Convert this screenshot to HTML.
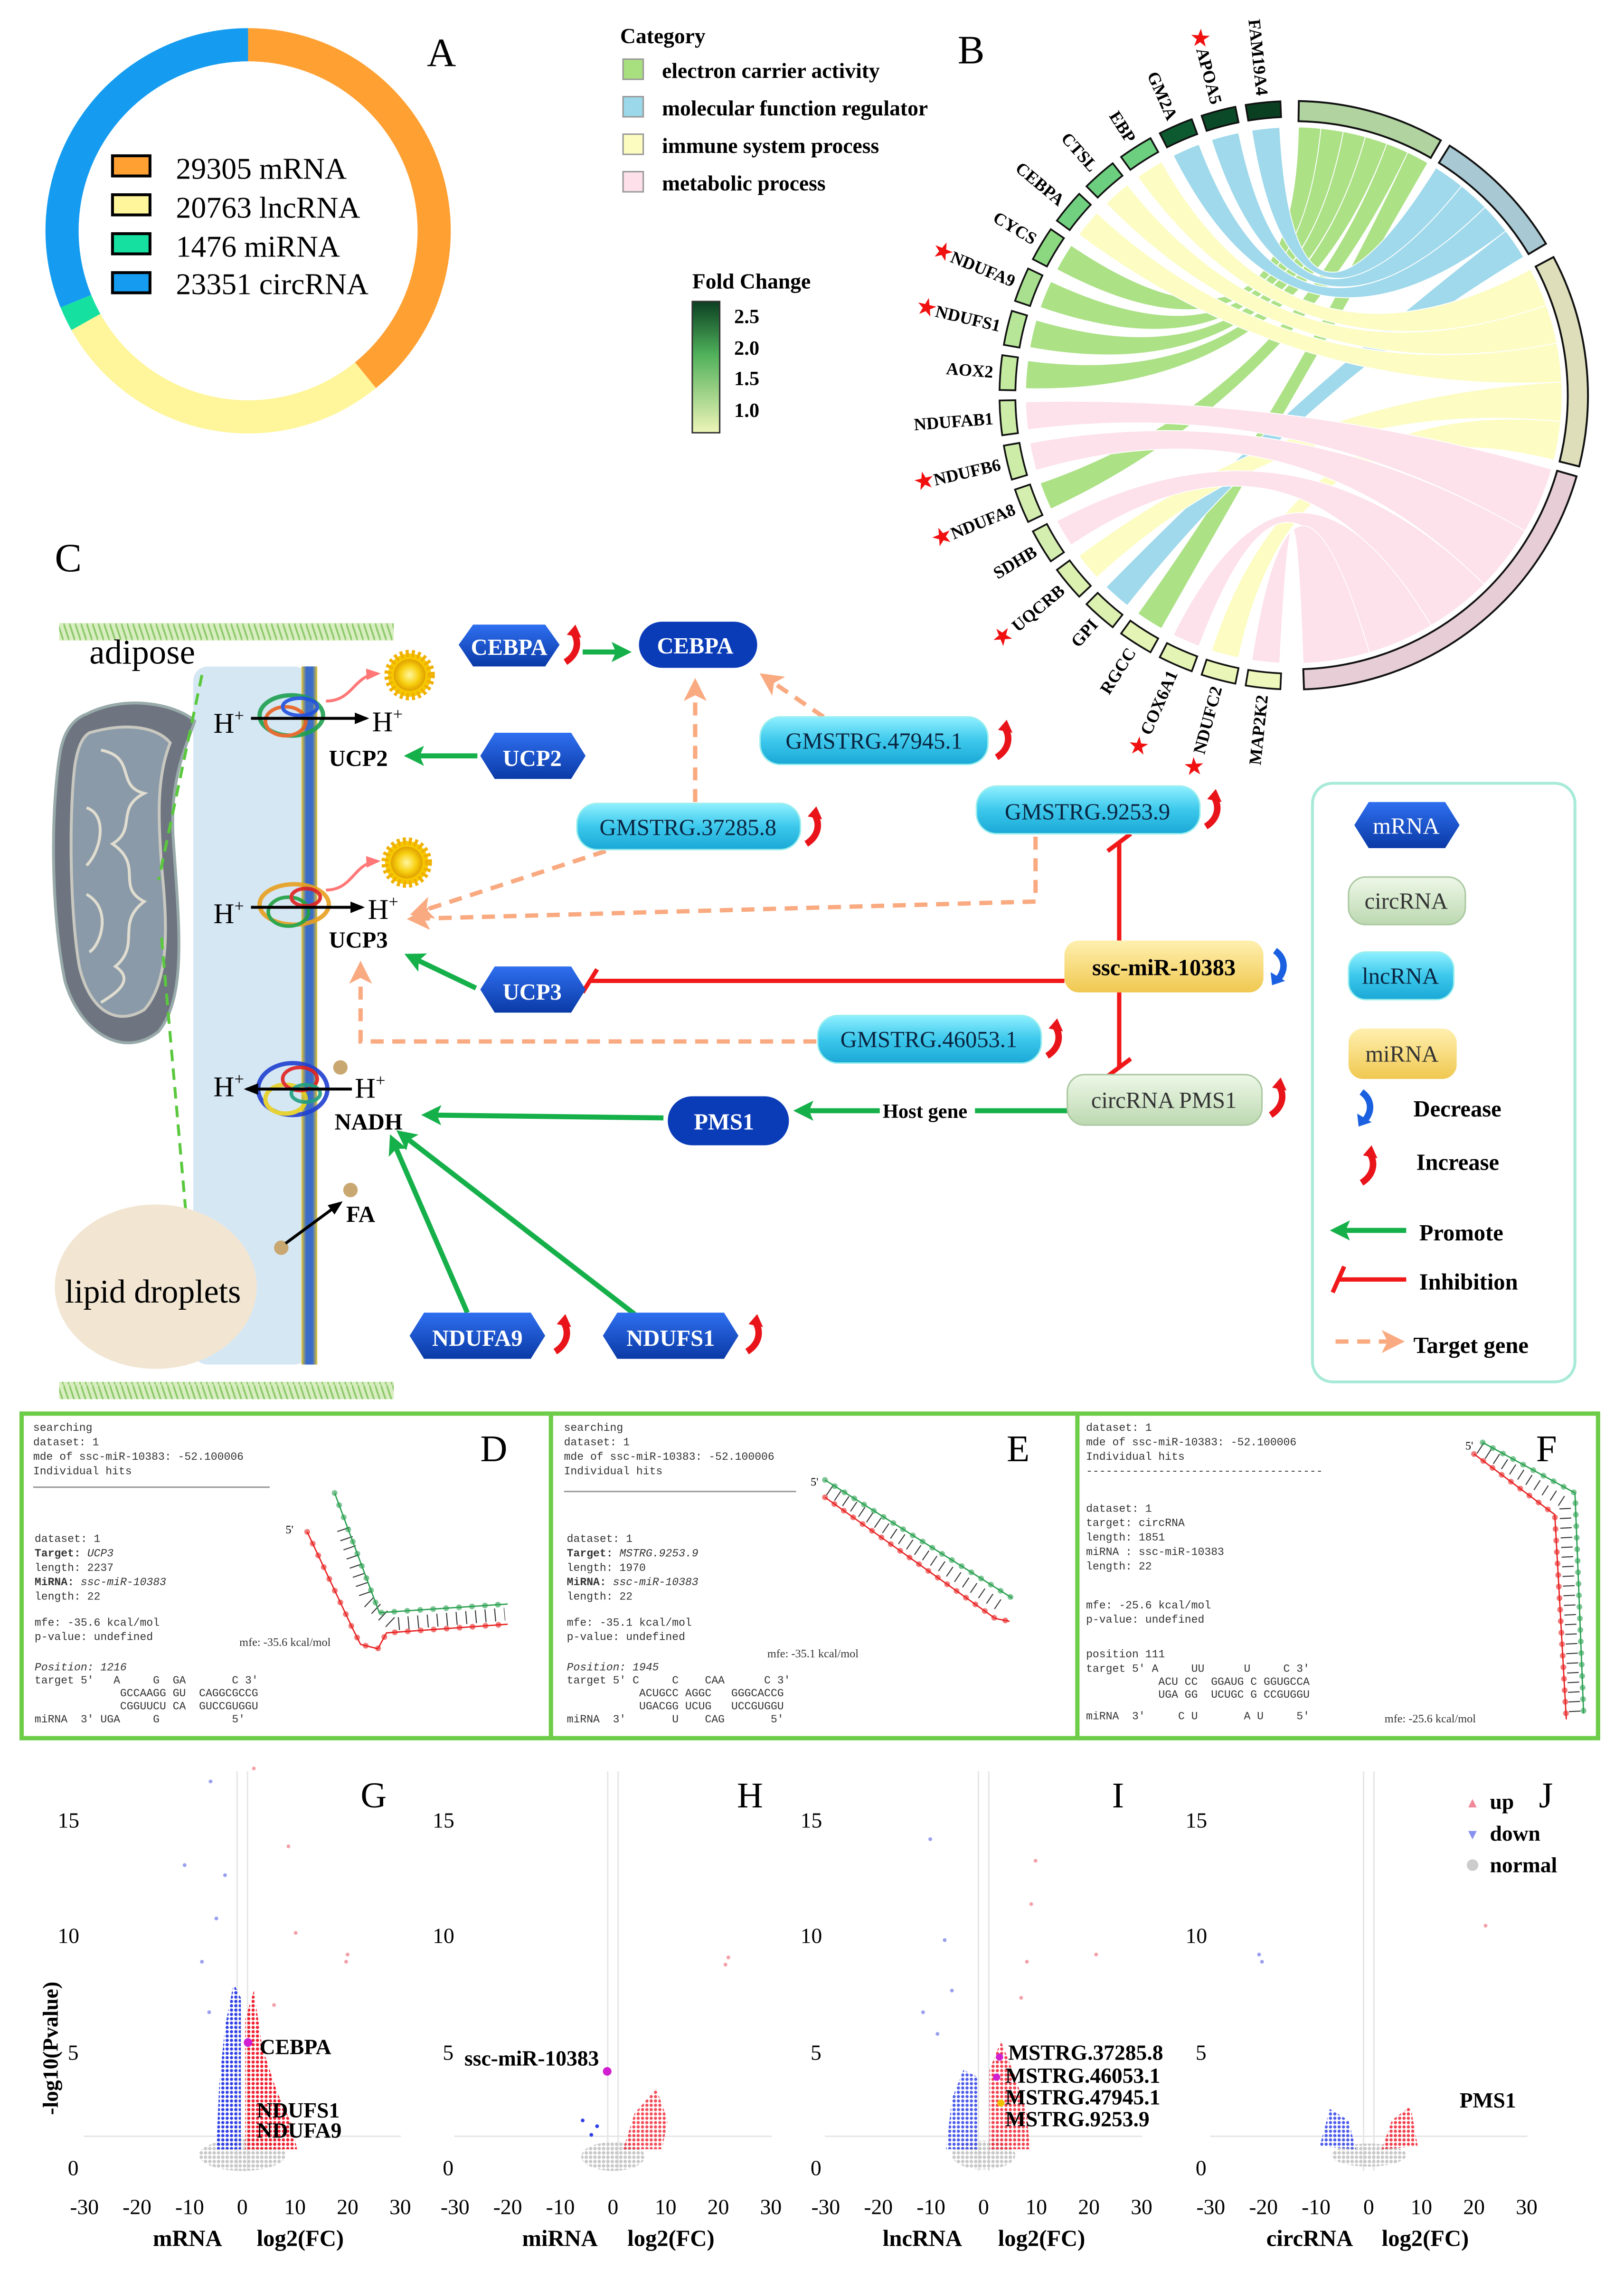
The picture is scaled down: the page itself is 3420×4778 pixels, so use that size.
<!DOCTYPE html>
<html><head><meta charset="utf-8">
<style>
html,body{margin:0;padding:0;background:#fff;}
svg{display:block;font-family:"Liberation Serif",serif;}
.b{font-weight:bold}
.m{font-family:"Liberation Mono",monospace;font-size:7.6px;fill:#333}
.nt{font-weight:bold;fill:#fff;font-size:16px;text-anchor:middle}
.lt{fill:#0a2540;font-size:16px;text-anchor:middle}
.gl{font-size:12px;font-weight:bold}
</style></head><body>
<svg xmlns="http://www.w3.org/2000/svg" width="3420" height="4778" viewBox="0 0 1126 1573" preserveAspectRatio="none">
<defs>
<linearGradient id="fc" x1="0" y1="0" x2="0" y2="1"><stop offset="0" stop-color="#0b3f22"/><stop offset="0.4" stop-color="#4fb05a"/><stop offset="1" stop-color="#eef5b8"/></linearGradient>
<linearGradient id="hx" x1="0" y1="0" x2="0" y2="1"><stop offset="0" stop-color="#2f6ff0"/><stop offset="1" stop-color="#0a3aa6"/></linearGradient>
<linearGradient id="ln" x1="0" y1="0" x2="0" y2="1"><stop offset="0" stop-color="#8ff0ff"/><stop offset="0.5" stop-color="#3cc8ec"/><stop offset="1" stop-color="#1aa8d6"/></linearGradient>
<linearGradient id="ci" x1="0" y1="0" x2="0" y2="1"><stop offset="0" stop-color="#eef8e8"/><stop offset="1" stop-color="#bcd8b0"/></linearGradient>
<linearGradient id="mi" x1="0" y1="0" x2="0" y2="1"><stop offset="0" stop-color="#fff0b0"/><stop offset="1" stop-color="#f0c850"/></linearGradient>
<linearGradient id="mb" x1="0" y1="0" x2="1" y2="0"><stop offset="0" stop-color="#e6c830"/><stop offset="0.3" stop-color="#3a6cc8"/><stop offset="0.7" stop-color="#3a6cc8"/><stop offset="1" stop-color="#e6c830"/></linearGradient>
<pattern id="hatch" width="4" height="12" patternUnits="userSpaceOnUse"><rect width="4" height="12" fill="#d8eec0"/><line x1="0" y1="0" x2="4" y2="12" stroke="#8cc86a" stroke-width="1.2"/></pattern>
<pattern id="pg" width="3" height="3" patternUnits="userSpaceOnUse"><circle cx="1.5" cy="1.5" r="1.2" fill="#c8c8c8"/></pattern>
<pattern id="pb" width="3" height="3" patternUnits="userSpaceOnUse"><circle cx="1.5" cy="1.5" r="1.1" fill="#3040e8"/></pattern>
<pattern id="pr" width="3" height="3" patternUnits="userSpaceOnUse"><circle cx="1.5" cy="1.5" r="1.1" fill="#f02030"/></pattern>
<marker id="agb" markerWidth="14" markerHeight="14" refX="10" refY="7" orient="auto" markerUnits="userSpaceOnUse"><path d="M0,0 L14,7 L0,14 L3,7 z" fill="#16b04a"/></marker>
<marker id="ao" markerWidth="16" markerHeight="16" refX="12" refY="8" orient="auto" markerUnits="userSpaceOnUse"><path d="M0,0 L16,8 L0,16 L4,8 z" fill="#f9aa80"/></marker>
<marker id="ak" markerWidth="10" markerHeight="10" refX="8" refY="5" orient="auto" markerUnits="userSpaceOnUse"><path d="M0,1 L10,5 L0,9 z" fill="#000"/></marker>
<marker id="ap" markerWidth="10" markerHeight="10" refX="8" refY="5" orient="auto" markerUnits="userSpaceOnUse"><path d="M0,1 L10,5 L0,9 z" fill="#f77"/></marker>
<symbol id="up" viewBox="0 0 14 26" overflow="visible"><path d="M2,25 C10,20 12,12 8,5" stroke="#e8141a" stroke-width="4.5" fill="none"/><path d="M3,6 L9,-1 L13,8 z" fill="#e8141a"/></symbol>
<symbol id="dn" viewBox="0 0 14 26" overflow="visible"><path d="M4,1 C11,6 12,14 6,21" stroke="#1a60e0" stroke-width="4.5" fill="none"/><path d="M1,16 L2,25 L11,22 z" fill="#1a60e0"/></symbol>
<radialGradient id="sun"><stop offset="0" stop-color="#fff6a0"/><stop offset="0.6" stop-color="#f8d010"/><stop offset="1" stop-color="#e0a000"/></radialGradient>
</defs>

<!-- Panel A -->
<g fill="none" stroke-width="23">
<path d="M172,31 A129 129 0 0 1 253.4,260.1" stroke="#ffa033"/>
<path d="M253.4,260.1 A129 129 0 0 1 59.55,223.2" stroke="#fff59a"/>
<path d="M59.55,223.2 A129 129 0 0 1 52.6,208.8" stroke="#16e0a0"/>
<path d="M52.6,208.8 A129 129 0 0 1 172,31" stroke="#159cf0"/>
</g>
<text x="296" y="46" font-size="28">A</text>
<g font-size="21">
<rect x="78" y="108" width="26" height="14" fill="#ffa033" stroke="#000" stroke-width="2"/><text x="122" y="124">29305 mRNA</text>
<rect x="78" y="135" width="26" height="14" fill="#fff59a" stroke="#000" stroke-width="2"/><text x="122" y="151">20763 lncRNA</text>
<rect x="78" y="162" width="26" height="14" fill="#16e0a0" stroke="#000" stroke-width="2"/><text x="122" y="178">1476 miRNA</text>
<rect x="78" y="189" width="26" height="14" fill="#159cf0" stroke="#000" stroke-width="2"/><text x="122" y="204">23351 circRNA</text>
</g>

<!-- Panel B legend -->
<text x="430" y="30" font-size="15" class="b">Category</text>
<g font-size="15" class="b">
<rect x="432" y="41" width="14" height="14" fill="#a8e080" stroke="#999"/><text x="459" y="54">electron carrier activity</text>
<rect x="432" y="67" width="14" height="14" fill="#9ad8ea" stroke="#999"/><text x="459" y="80">molecular function regulator</text>
<rect x="432" y="93" width="14" height="14" fill="#fcfcc0" stroke="#999"/><text x="459" y="106">immune system process</text>
<rect x="432" y="119" width="14" height="14" fill="#fde0ea" stroke="#999"/><text x="459" y="132">metabolic process</text>
</g>
<text x="664" y="44" font-size="28">B</text>
<text x="480" y="200" font-size="15" class="b">Fold Change</text>
<rect x="480" y="209" width="19" height="91" fill="url(#fc)" stroke="#333"/>
<g font-size="14" class="b"><text x="509" y="224">2.5</text><text x="509" y="246">2.0</text><text x="509" y="267">1.5</text><text x="509" y="289">1.0</text></g>

<!-- chord -->
<g transform="translate(897 274)">
<g stroke="#fff" stroke-width="0.6" opacity="0.95">
<g fill="#a8e080">
<path d="M-164.3,-87.2 A186 186 0 0 1 -154.3,-103.9 Q0,0 3.25,-185.97 A186 186 0 0 1 18.9,-185.0 Q0,0 -164.3,-87.2 Z"/>
<path d="M-175.8,-60.9 A186 186 0 0 1 -168.4,-78.9 Q0,0 18.9,-185.0 A186 186 0 0 1 34.4,-182.8 Q0,0 -175.8,-60.9 Z"/>
<path d="M-183.0,-33.1 A186 186 0 0 1 -178.6,-52.1 Q0,0 34.4,-182.8 A186 186 0 0 1 49.7,-179.2 Q0,0 -183.0,-33.1 Z"/>
<path d="M-185.9,-4.6 A186 186 0 0 1 -184.4,-24.0 Q0,0 49.7,-179.2 A186 186 0 0 1 64.6,-174.4 Q0,0 -185.9,-4.6 Z"/>
<path d="M-168.4,78.9 A186 186 0 0 1 -175.8,60.9 Q0,0 64.6,-174.4 A186 186 0 0 1 79.1,-168.4 Q0,0 -168.4,78.9 Z"/>
<path d="M-91.7,161.8 A186 186 0 0 1 -108.1,151.4 Q0,0 79.1,-168.4 A186 186 0 0 1 93,-161.1 Q0,0 -91.7,161.8 Z"/>
</g>
<g fill="#9ad8ea">
<path d="M-29.1,-183.7 A186 186 0 0 1 -9.7,-185.7 Q0,0 98.6,-157.7 A186 186 0 0 1 116.4,-145.1 Q0,0 -29.1,-183.7 Z"/>
<path d="M-57.0,-177.1 A186 186 0 0 1 -38.2,-182.0 Q0,0 116.4,-145.1 A186 186 0 0 1 132.7,-130.4 Q0,0 -57.0,-177.1 Z"/>
<path d="M-83.5,-166.2 A186 186 0 0 1 -65.7,-174.0 Q0,0 132.7,-130.4 A186 186 0 0 1 147.1,-113.9 Q0,0 -83.5,-166.2 Z"/>
<path d="M-115.4,145.8 A186 186 0 0 1 -130.1,133.0 Q0,0 147.1,-113.9 A186 186 0 0 1 159.4,-95.8 Q0,0 -115.4,145.8 Z"/>
</g>
<g fill="#fcfcc0">
<path d="M-108.1,-151.4 A186 186 0 0 1 -91.7,-161.8 Q0,0 164.2,-87.3 A186 186 0 0 1 175.2,-62.4 Q0,0 -108.1,-151.4 Z"/>
<path d="M-130.1,-133.0 A186 186 0 0 1 -115.4,-145.9 Q0,0 175.2,-62.4 A186 186 0 0 1 182.5,-36.1 Q0,0 -130.1,-133.0 Z"/>
<path d="M-149.0,-111.4 A186 186 0 0 1 -136.5,-126.4 Q0,0 182.5,-36.1 A186 186 0 0 1 185.8,-9.1 Q0,0 -149.0,-111.4 Z"/>
<path d="M-136.5,126.4 A186 186 0 0 1 -149.0,111.4 Q0,0 185.8,-9.1 A186 186 0 0 1 185.1,18.2 Q0,0 -136.5,126.4 Z"/>
<path d="M-38.2,182.0 A186 186 0 0 1 -57.0,177.1 Q0,0 185.1,18.2 A186 186 0 0 1 180.5,45.0 Q0,0 -38.2,182.0 Z"/>
</g>
<g fill="#fde0ea">
<path d="M-184.4,24.0 A186 186 0 0 1 -185.9,4.6 Q0,0 178.8,51.3 A186 186 0 0 1 160.4,94.1 Q0,0 -184.4,24.0 Z"/>
<path d="M-178.6,52.1 A186 186 0 0 1 -183.0,33.1 Q0,0 160.4,94.1 A186 186 0 0 1 132.0,131.1 Q0,0 -178.6,52.1 Z"/>
<path d="M-154.3,103.9 A186 186 0 0 1 -164.3,87.2 Q0,0 132.0,131.1 A186 186 0 0 1 95.3,159.7 Q0,0 -154.3,103.9 Z"/>
<path d="M-65.7,174.0 A186 186 0 0 1 -83.5,166.2 Q0,0 95.3,159.7 A186 186 0 0 1 52.5,178.4 Q0,0 -65.7,174.0 Z"/>
<path d="M-9.7,185.7 A186 186 0 0 1 -29.1,183.7 Q0,0 52.5,178.4 A186 186 0 0 1 6.5,185.9 Q0,0 -9.7,185.7 Z"/>
</g>
</g>
<g stroke="#111" stroke-width="1.3">
<path d="M3.32,-189.97 A190 190 0 0 1 95,-164.54 L102,-176.67 A204 204 0 0 0 3.56,-203.97 Z" fill="#b0d3a0"/>
<path d="M100.68,-161.12 A190 190 0 0 1 162.87,-97.85 L174.87,-105.06 A204 204 0 0 0 108.10,-173.0 Z" fill="#a8c8d4"/>
<path d="M167.75,-89.21 A190 190 0 0 1 184.36,45.96 L197.94,49.35 A204 204 0 0 0 180.11,-95.78 Z" fill="#dedfba"/>
<path d="M182.65,52.36 A190 190 0 0 1 6.63,189.89 L7.12,203.88 A204 204 0 0 0 196.1,56.22 Z" fill="#e6cdd6"/>
</g>
<g stroke="#111" stroke-width="1.2">
<path transform="rotate(264)" d="M192.66,-11.45 A193 193 0 0 1 192.66,11.45 L203.64,12.10 A204 204 0 0 0 203.64,-12.10 Z" fill="#0b3f22"/>
<path transform="rotate(255.16)" d="M192.66,-11.45 A193 193 0 0 1 192.66,11.45 L203.64,12.10 A204 204 0 0 0 203.64,-12.10 Z" fill="#0b4a28"/>
<path transform="rotate(246.32)" d="M192.66,-11.45 A193 193 0 0 1 192.66,11.45 L203.64,12.10 A204 204 0 0 0 203.64,-12.10 Z" fill="#0e5a30"/>
<path transform="rotate(237.47)" d="M192.66,-11.45 A193 193 0 0 1 192.66,11.45 L203.64,12.10 A204 204 0 0 0 203.64,-12.10 Z" fill="#6ccf7f"/>
<path transform="rotate(228.63)" d="M192.66,-11.45 A193 193 0 0 1 192.66,11.45 L203.64,12.10 A204 204 0 0 0 203.64,-12.10 Z" fill="#6ccf7f"/>
<path transform="rotate(219.79)" d="M192.66,-11.45 A193 193 0 0 1 192.66,11.45 L203.64,12.10 A204 204 0 0 0 203.64,-12.10 Z" fill="#70d080"/>
<path transform="rotate(210.95)" d="M192.66,-11.45 A193 193 0 0 1 192.66,11.45 L203.64,12.10 A204 204 0 0 0 203.64,-12.10 Z" fill="#8cd880"/>
<path transform="rotate(202.1)" d="M192.66,-11.45 A193 193 0 0 1 192.66,11.45 L203.64,12.10 A204 204 0 0 0 203.64,-12.10 Z" fill="#a8e090"/>
<path transform="rotate(193.26)" d="M192.66,-11.45 A193 193 0 0 1 192.66,11.45 L203.64,12.10 A204 204 0 0 0 203.64,-12.10 Z" fill="#b8e698"/>
<path transform="rotate(184.42)" d="M192.66,-11.45 A193 193 0 0 1 192.66,11.45 L203.64,12.10 A204 204 0 0 0 203.64,-12.10 Z" fill="#c4eaa0"/>
<path transform="rotate(175.58)" d="M192.66,-11.45 A193 193 0 0 1 192.66,11.45 L203.64,12.10 A204 204 0 0 0 203.64,-12.10 Z" fill="#cdeca8"/>
<path transform="rotate(166.74)" d="M192.66,-11.45 A193 193 0 0 1 192.66,11.45 L203.64,12.10 A204 204 0 0 0 203.64,-12.10 Z" fill="#cdeca8"/>
<path transform="rotate(157.9)" d="M192.66,-11.45 A193 193 0 0 1 192.66,11.45 L203.64,12.10 A204 204 0 0 0 203.64,-12.10 Z" fill="#d4eeb0"/>
<path transform="rotate(149.05)" d="M192.66,-11.45 A193 193 0 0 1 192.66,11.45 L203.64,12.10 A204 204 0 0 0 203.64,-12.10 Z" fill="#d4eeb0"/>
<path transform="rotate(140.2)" d="M192.66,-11.45 A193 193 0 0 1 192.66,11.45 L203.64,12.10 A204 204 0 0 0 203.64,-12.10 Z" fill="#dcf0b0"/>
<path transform="rotate(131.37)" d="M192.66,-11.45 A193 193 0 0 1 192.66,11.45 L203.64,12.10 A204 204 0 0 0 203.64,-12.10 Z" fill="#dcf0b0"/>
<path transform="rotate(122.53)" d="M192.66,-11.45 A193 193 0 0 1 192.66,11.45 L203.64,12.10 A204 204 0 0 0 203.64,-12.10 Z" fill="#e4f4b4"/>
<path transform="rotate(113.68)" d="M192.66,-11.45 A193 193 0 0 1 192.66,11.45 L203.64,12.10 A204 204 0 0 0 203.64,-12.10 Z" fill="#e4f4b4"/>
<path transform="rotate(104.84)" d="M192.66,-11.45 A193 193 0 0 1 192.66,11.45 L203.64,12.10 A204 204 0 0 0 203.64,-12.10 Z" fill="#eaf6b8"/>
<path transform="rotate(96)" d="M192.66,-11.45 A193 193 0 0 1 192.66,11.45 L203.64,12.10 A204 204 0 0 0 203.64,-12.10 Z" fill="#eef8bc"/>
</g>
</g>
<g class="gl">
<text transform="translate(897 274) rotate(264) translate(209 0) rotate(180)" text-anchor="end" dy="4">FAM19A4</text>
<text transform="translate(897 274) rotate(255.16) translate(209 0) rotate(180)" text-anchor="end" dy="4"><tspan fill="#f01010" font-size="15">★</tspan>APOA5</text>
<text transform="translate(897 274) rotate(246.32) translate(209 0) rotate(180)" text-anchor="end" dy="4">GM2A</text>
<text transform="translate(897 274) rotate(237.47) translate(209 0) rotate(180)" text-anchor="end" dy="4">EBP</text>
<text transform="translate(897 274) rotate(228.63) translate(209 0) rotate(180)" text-anchor="end" dy="4">CTSL</text>
<text transform="translate(897 274) rotate(219.79) translate(209 0) rotate(180)" text-anchor="end" dy="4">CEBPA</text>
<text transform="translate(897 274) rotate(210.95) translate(209 0) rotate(180)" text-anchor="end" dy="4">CYCS</text>
<text transform="translate(897 274) rotate(202.1) translate(209 0) rotate(180)" text-anchor="end" dy="4"><tspan fill="#f01010" font-size="15">★</tspan>NDUFA9</text>
<text transform="translate(897 274) rotate(193.26) translate(209 0) rotate(180)" text-anchor="end" dy="4"><tspan fill="#f01010" font-size="15">★</tspan>NDUFS1</text>
<text transform="translate(897 274) rotate(184.42) translate(209 0) rotate(180)" text-anchor="end" dy="4">AOX2</text>
<text transform="translate(897 274) rotate(175.58) translate(209 0) rotate(180)" text-anchor="end" dy="4">NDUFAB1</text>
<text transform="translate(897 274) rotate(166.74) translate(209 0) rotate(180)" text-anchor="end" dy="4"><tspan fill="#f01010" font-size="15">★</tspan>NDUFB6</text>
<text transform="translate(897 274) rotate(157.9) translate(209 0) rotate(180)" text-anchor="end" dy="4"><tspan fill="#f01010" font-size="15">★</tspan>NDUFA8</text>
<text transform="translate(897 274) rotate(149.05) translate(209 0) rotate(180)" text-anchor="end" dy="4">SDHB</text>
<text transform="translate(897 274) rotate(140.2) translate(209 0) rotate(180)" text-anchor="end" dy="4"><tspan fill="#f01010" font-size="15">★</tspan> UQCRB</text>
<text transform="translate(897 274) rotate(131.37) translate(209 0) rotate(180)" text-anchor="end" dy="4">GPI</text>
<text transform="translate(897 274) rotate(122.53) translate(209 0) rotate(180)" text-anchor="end" dy="4">RGCC</text>
<text transform="translate(897 274) rotate(113.68) translate(209 0) rotate(180)" text-anchor="end" dy="4"><tspan fill="#f01010" font-size="15">★</tspan> COX6A1</text>
<text transform="translate(897 274) rotate(104.84) translate(209 0) rotate(180)" text-anchor="end" dy="4"><tspan fill="#f01010" font-size="15">★</tspan> NDUFC2</text>
<text transform="translate(897 274) rotate(96) translate(209 0) rotate(180)" text-anchor="end" dy="4">MAP2K2</text>
</g>

<!-- Panel C -->
<text x="38" y="396" font-size="28">C</text>
<rect x="41" y="432" width="232" height="12" fill="url(#hatch)"/>
<rect x="41" y="958" width="232" height="12" fill="url(#hatch)"/>
<rect x="134" y="462" width="80" height="484" rx="10" fill="#cfe3f2" opacity="0.85"/>
<rect x="209" y="462" width="11" height="484" fill="url(#mb)"/>
<text x="62" y="460" font-size="24">adipose</text>
<path d="M60,495 C90,480 125,490 135,500 C128,520 118,540 120,580 C124,640 130,690 110,715 C85,735 55,715 45,680 C35,630 35,560 42,520 C45,505 52,498 60,495 z" fill="#6e7580" stroke="#9aa" stroke-width="2"/>
<path d="M62,508 C90,500 110,505 118,515 C108,540 110,570 112,600 C116,640 118,680 100,700 C80,712 62,700 55,670 C48,630 48,560 52,530 C54,518 57,511 62,508 z" fill="#8a9aa8" stroke="#c8c8c0" stroke-width="2"/>
<path d="M70,520 C95,525 80,545 100,550 C80,560 95,575 78,585 C100,600 80,615 100,625 C80,640 98,655 80,670 C95,680 78,690 70,695 M60,560 C75,565 70,590 60,600 M60,620 C78,630 70,655 62,660" stroke="#e0ddd0" stroke-width="2" fill="none"/>
<line x1="140" y1="468" x2="110" y2="610" stroke="#5ac83c" stroke-width="2" stroke-dasharray="8,5"/>
<line x1="112" y1="650" x2="138" y2="944" stroke="#5ac83c" stroke-width="2" stroke-dasharray="8,5"/>
<g opacity="0.9">
<ellipse cx="202" cy="496" rx="22" ry="14" fill="none" stroke="#1ea050" stroke-width="3"/><ellipse cx="198" cy="500" rx="14" ry="10" fill="none" stroke="#e86020" stroke-width="2.5"/><ellipse cx="208" cy="490" rx="12" ry="6" fill="none" stroke="#2050e0" stroke-width="2.5"/>
<ellipse cx="204" cy="627" rx="24" ry="14" fill="none" stroke="#e8a020" stroke-width="3"/><ellipse cx="200" cy="632" rx="14" ry="10" fill="none" stroke="#20a040" stroke-width="2.5"/><ellipse cx="212" cy="622" rx="10" ry="6" fill="none" stroke="#e02020" stroke-width="2.5"/>
<ellipse cx="203" cy="755" rx="24" ry="18" fill="none" stroke="#2040d0" stroke-width="3"/><ellipse cx="198" cy="762" rx="14" ry="10" fill="none" stroke="#e8d020" stroke-width="3"/><ellipse cx="208" cy="748" rx="12" ry="8" fill="none" stroke="#e02020" stroke-width="2.5"/><ellipse cx="212" cy="758" rx="10" ry="6" fill="none" stroke="#20a080" stroke-width="2.5"/>
</g>
<g font-size="20">
<text x="148" y="508">H<tspan font-size="12" dy="-8">+</tspan></text>
<text x="258" y="507">H<tspan font-size="12" dy="-8">+</tspan></text>
<text x="148" y="640">H<tspan font-size="12" dy="-8">+</tspan></text>
<text x="255" y="637">H<tspan font-size="12" dy="-8">+</tspan></text>
<text x="148" y="760">H<tspan font-size="12" dy="-8">+</tspan></text>
<text x="246" y="761">H<tspan font-size="12" dy="-8">+</tspan></text>
</g>
<line x1="174" y1="498" x2="254" y2="498" stroke="#000" stroke-width="2" marker-end="url(#ak)"/>
<line x1="174" y1="629" x2="251" y2="629" stroke="#000" stroke-width="2" marker-end="url(#ak)"/>
<line x1="244" y1="755" x2="171" y2="755" stroke="#000" stroke-width="2" marker-end="url(#ak)"/>
<g font-size="16" class="b"><text x="228" y="531">UCP2</text><text x="228" y="657">UCP3</text><text x="232" y="783">NADH</text><text x="240" y="847">FA</text></g>
<path d="M226,486 C245,486 245,468 262,467" stroke="#f77" stroke-width="2" fill="none" marker-end="url(#ap)"/>
<path d="M226,617 C245,617 245,598 262,597" stroke="#f77" stroke-width="2" fill="none" marker-end="url(#ap)"/>
<circle cx="284" cy="468" r="15" fill="#f6c800" stroke="#f0b000" stroke-width="5" stroke-dasharray="2,2"/><circle cx="284" cy="468" r="11" fill="url(#sun)"/>
<circle cx="282" cy="598" r="15" fill="#f6c800" stroke="#f0b000" stroke-width="5" stroke-dasharray="2,2"/><circle cx="282" cy="598" r="11" fill="url(#sun)"/>
<circle cx="236" cy="740" r="5" fill="#c8a870"/>
<ellipse cx="108" cy="892" rx="70" ry="57" fill="#f2e6d2"/>
<text x="45" y="903" font-size="23">lipid droplets</text>
<circle cx="195" cy="865" r="5" fill="#c8a870"/><circle cx="243" cy="825" r="5" fill="#c8a870"/>
<line x1="198" y1="862" x2="236" y2="834" stroke="#000" stroke-width="2" marker-end="url(#ak)"/>

<g stroke="#f9aa80" stroke-width="3" fill="none" stroke-dasharray="9,6">
<path d="M571,497 L530,469" marker-end="url(#ao)"/>
<path d="M482,556 L482,474" marker-end="url(#ao)"/>
<path d="M420,590 L288,633" marker-end="url(#ao)"/>
<path d="M718,580 L718,625 L286,637" marker-end="url(#ao)"/>
<path d="M566,722 L250,722 L250,670" marker-end="url(#ao)"/>
</g>
<g stroke="#16b04a" stroke-width="3.5" fill="none">
<path d="M404,452 L434,452" marker-end="url(#agb)"/>
<path d="M331,524 L284,524" marker-end="url(#agb)"/>
<path d="M330,685 L284,663" marker-end="url(#agb)"/>
<path d="M460,775 L296,773" marker-end="url(#agb)"/>
<path d="M740,770 L554,770" marker-end="url(#agb)"/>
<path d="M324,910 L272,790" marker-end="url(#agb)"/>
<path d="M440,911 L278,786" marker-end="url(#agb)"/>
</g>
<rect x="610" y="762" width="66" height="16" fill="#fff"/>
<text x="612" y="775" font-size="14" class="b">Host gene</text>
<g stroke="#f01818" stroke-width="3" fill="none">
<path d="M776,652 L776,584"/><path d="M768,590 L784,578"/>
<path d="M738,680 L410,680"/><path d="M404,688 L414,672"/>
<path d="M776,688 L776,740"/><path d="M768,746 L784,734"/>
</g>

<polygon points="318,447 328,433 378,433 388,447 378,462 328,462" fill="url(#hx)"/><text x="353" y="454" class="nt">CEBPA</text>
<use href="#up" x="390" y="434" width="14" height="26"/>
<rect x="443" y="431" width="82" height="32" rx="16" fill="#0b3cb8"/><text x="482" y="453" class="nt">CEBPA</text>
<polygon points="333,524 343,508 396,508 406,524 396,540 343,540" fill="url(#hx)"/><text x="369" y="531" class="nt">UCP2</text>
<rect x="527" y="497" width="158" height="33" rx="14" fill="url(#ln)" stroke="#9ee"/><text x="606" y="519" class="lt">GMSTRG.47945.1</text>
<use href="#up" x="689" y="500" width="14" height="26"/>
<rect x="400" y="557" width="155" height="32" rx="14" fill="url(#ln)" stroke="#9ee"/><text x="477" y="579" class="lt">GMSTRG.37285.8</text>
<use href="#up" x="557" y="560" width="14" height="26"/>
<rect x="677" y="545" width="155" height="33" rx="14" fill="url(#ln)" stroke="#9ee"/><text x="754" y="568" class="lt">GMSTRG.9253.9</text>
<use href="#up" x="834" y="548" width="14" height="26"/>
<rect x="738" y="652" width="138" height="36" rx="10" fill="url(#mi)"/><text x="807" y="676" font-size="16" class="b" text-anchor="middle">ssc-miR-10383</text>
<use href="#dn" x="880" y="658" width="14" height="26"/>
<polygon points="333,686 343,670 396,670 406,686 396,702 343,702" fill="url(#hx)"/><text x="369" y="693" class="nt">UCP3</text>
<rect x="567" y="704" width="155" height="33" rx="14" fill="url(#ln)" stroke="#9ee"/><text x="644" y="726" class="lt">GMSTRG.46053.1</text>
<use href="#up" x="724" y="707" width="14" height="26"/>
<rect x="740" y="745" width="135" height="35" rx="12" fill="url(#ci)" stroke="#aac8a0"/><text x="807" y="768" font-size="16" fill="#333" text-anchor="middle">circRNA PMS1</text>
<use href="#up" x="879" y="748" width="14" height="26"/>
<rect x="463" y="760" width="84" height="34" rx="17" fill="#0b3cb8"/><text x="502" y="783" class="nt">PMS1</text>
<polygon points="284,926 294,910 368,910 378,926 368,942 294,942" fill="url(#hx)"/><text x="331" y="933" class="nt">NDUFA9</text>
<use href="#up" x="383" y="912" width="14" height="26"/>
<polygon points="418,926 428,910 502,910 512,926 502,942 428,942" fill="url(#hx)"/><text x="465" y="933" class="nt">NDUFS1</text>
<use href="#up" x="516" y="912" width="14" height="26"/>

<rect x="910" y="543" width="182" height="415" rx="14" fill="#fff" stroke="#a8ead8" stroke-width="2"/>
<polygon points="939,572 949,556 1002,556 1012,572 1002,588 949,588" fill="url(#hx)"/><text x="975" y="578" font-size="16" fill="#fff" text-anchor="middle">mRNA</text>
<rect x="935" y="608" width="81" height="33" rx="12" fill="url(#ci)" stroke="#aac8a0"/><text x="975" y="630" font-size="16" fill="#333" text-anchor="middle">circRNA</text>
<rect x="935" y="660" width="73" height="33" rx="12" fill="url(#ln)" stroke="#9ee"/><text x="971" y="682" class="lt">lncRNA</text>
<rect x="935" y="713" width="75" height="35" rx="10" fill="url(#mi)"/><text x="972" y="736" font-size="16" fill="#333" text-anchor="middle">miRNA</text>
<use href="#dn" x="940" y="756" width="14" height="26"/>
<use href="#up" x="942" y="795" width="14" height="26"/>
<g font-size="16" class="b"><text x="980" y="774">Decrease</text><text x="982" y="811">Increase</text><text x="984" y="860">Promote</text><text x="984" y="894">Inhibition</text><text x="980" y="938">Target gene</text></g>
<path d="M975,853 L926,853" stroke="#16b04a" stroke-width="3.5" marker-end="url(#agb)"/>
<path d="M975,887 L928,887" stroke="#f01818" stroke-width="3"/><path d="M924,896 L932,878" stroke="#f01818" stroke-width="3"/>
<path d="M926,930 L970,930" stroke="#f9aa80" stroke-width="3" stroke-dasharray="9,6" marker-end="url(#ao)"/>

<!-- Panels D E F -->
<rect x="15" y="980" width="1093" height="225" fill="none" stroke="#6dcc48" stroke-width="3"/>
<line x1="382" y1="980" x2="382" y2="1205" stroke="#6dcc48" stroke-width="3"/>
<line x1="747" y1="980" x2="747" y2="1205" stroke="#6dcc48" stroke-width="3"/>
<text x="333" y="1013" font-size="26">D</text><text x="698" y="1013" font-size="26">E</text><text x="1065" y="1013" font-size="26">F</text>
<g class="m">
<text x="23" y="992">searching</text><text x="23" y="1002">dataset: 1</text><text x="23" y="1012">mde of ssc-miR-10383: -52.100006</text><text x="23" y="1022">Individual hits</text>
<text x="24" y="1069">dataset: 1</text><text x="24" y="1079"><tspan font-weight="bold">Target:</tspan> <tspan font-style="italic">UCP3</tspan></text><text x="24" y="1089">length: 2237</text><text x="24" y="1099"><tspan font-weight="bold">MiRNA:</tspan> <tspan font-style="italic">ssc-miR-10383</tspan></text><text x="24" y="1109">length: 22</text>
<text x="24" y="1127">mfe: -35.6 kcal/mol</text><text x="24" y="1137">p-value: undefined</text>
<text x="24" y="1158" font-style="italic">Position: 1216</text>
<text x="24" y="1167" xml:space="preserve">target 5'   A     G  GA       C 3'</text>
<text x="24" y="1176" xml:space="preserve">             GCCAAGG GU  CAGGCGCCG</text>
<text x="24" y="1185" xml:space="preserve">             CGGUUCU CA  GUCCGUGGU</text>
<text x="24" y="1194" xml:space="preserve">miRNA  3' UGA     G           5'</text>
<text x="166" y="1141" font-family="Liberation Serif" font-size="8">mfe: -35.6 kcal/mol</text>
<text x="391" y="992">searching</text><text x="391" y="1002">dataset: 1</text><text x="391" y="1012">mde of ssc-miR-10383: -52.100006</text><text x="391" y="1022">Individual hits</text>
<text x="393" y="1069">dataset: 1</text><text x="393" y="1079"><tspan font-weight="bold">Target:</tspan> <tspan font-style="italic">MSTRG.9253.9</tspan></text><text x="393" y="1089">length: 1970</text><text x="393" y="1099"><tspan font-weight="bold">MiRNA:</tspan> <tspan font-style="italic">ssc-miR-10383</tspan></text><text x="393" y="1109">length: 22</text>
<text x="393" y="1127">mfe: -35.1 kcal/mol</text><text x="393" y="1137">p-value: undefined</text>
<text x="393" y="1158" font-style="italic">Position: 1945</text>
<text x="393" y="1167" xml:space="preserve">target 5' C     C    CAA      C 3'</text>
<text x="393" y="1176" xml:space="preserve">           ACUGCC AGGC   GGGCACCG</text>
<text x="393" y="1185" xml:space="preserve">           UGACGG UCUG   UCCGUGGU</text>
<text x="393" y="1194" xml:space="preserve">miRNA  3'       U    CAG       5'</text>
<text x="532" y="1149" font-family="Liberation Serif" font-size="8">mfe: -35.1 kcal/mol</text>
<text x="753" y="992">dataset: 1</text><text x="753" y="1002">mde of ssc-miR-10383: -52.100006</text><text x="753" y="1012">Individual hits</text><text x="753" y="1022">------------------------------------</text>
<text x="753" y="1048">dataset: 1</text><text x="753" y="1058">target: circRNA</text><text x="753" y="1068">length: 1851</text><text x="753" y="1078">miRNA : ssc-miR-10383</text><text x="753" y="1088">length: 22</text>
<text x="753" y="1115">mfe: -25.6 kcal/mol</text><text x="753" y="1125">p-value: undefined</text>
<text x="753" y="1149">position  111</text>
<text x="753" y="1159" xml:space="preserve">target 5' A     UU      U     C 3'</text>
<text x="753" y="1168" xml:space="preserve">           ACU CC  GGAUG C GGUGCCA</text>
<text x="753" y="1177" xml:space="preserve">           UGA GG  UCUGC G CCGUGGU</text>
<text x="753" y="1192" xml:space="preserve">miRNA  3'     C U       A U     5'</text>
<text x="960" y="1194" font-family="Liberation Serif" font-size="8">mfe: -25.6 kcal/mol</text>
</g>
<line x1="23" y1="1031" x2="187" y2="1031" stroke="#999" stroke-width="1"/>
<line x1="391" y1="1034" x2="552" y2="1034" stroke="#999" stroke-width="1"/>
<text x="198" y="1063" font-size="8">5'</text><text x="562" y="1030" font-size="8">5'</text><text x="1016" y="1005" font-size="8">5'</text>
<!-- RNA structures -->
<g fill="none">
<path d="M238,1060 L255,1110 L272,1126 L350,1119" stroke="#333" stroke-width="9" stroke-dasharray="0.7,6"/>
<path d="M232,1035 L263,1118 L352,1112" stroke="#2aa050" stroke-width="0.9"/>
<path d="M232,1035 L263,1118 L352,1112" stroke="#2aa050" stroke-width="4" stroke-dasharray="0,9" stroke-linecap="round" opacity="0.6"/>
<path d="M213,1062 L244,1128 L250,1140 L262,1143 L268,1132 L352,1126" stroke="#e82020" stroke-width="0.9"/>
<path d="M213,1062 L244,1128 L250,1140 L262,1143 L268,1132 L352,1126" stroke="#e82020" stroke-width="4" stroke-dasharray="0,9" stroke-linecap="round" opacity="0.6"/>
<path d="M575,1033 L696,1115" stroke="#333" stroke-width="8" stroke-dasharray="0.7,6"/>
<path d="M572,1026 L702,1108" stroke="#2aa050" stroke-width="0.9"/>
<path d="M572,1026 L702,1108" stroke="#2aa050" stroke-width="4" stroke-dasharray="0,8" stroke-linecap="round" opacity="0.6"/>
<path d="M572,1038 L690,1122 L700,1124" stroke="#e82020" stroke-width="0.9"/>
<path d="M572,1038 L690,1122 L700,1124" stroke="#e82020" stroke-width="4" stroke-dasharray="0,8" stroke-linecap="round" opacity="0.6"/>
<path d="M1026,1004 L1085,1042 L1092,1190" stroke="#333" stroke-width="8" stroke-dasharray="0.7,6"/>
<path d="M1028,1000 L1092,1035 L1098,1188" stroke="#2aa050" stroke-width="0.9"/>
<path d="M1028,1000 L1092,1035 L1098,1188" stroke="#2aa050" stroke-width="4" stroke-dasharray="0,8" stroke-linecap="round" opacity="0.6"/>
<path d="M1022,1008 L1078,1050 L1086,1192" stroke="#e82020" stroke-width="0.9"/>
<path d="M1022,1008 L1078,1050 L1086,1192" stroke="#e82020" stroke-width="4" stroke-dasharray="0,8" stroke-linecap="round" opacity="0.6"/>
</g>

<!-- volcano plots -->
<g stroke="#e6e6e6" stroke-width="1">
<line x1="58" y1="1481" x2="278" y2="1481"/><line x1="164.4" y1="1228" x2="164.4" y2="1505"/><line x1="171.6" y1="1228" x2="171.6" y2="1505"/>
<line x1="315" y1="1481" x2="535" y2="1481"/><line x1="421.4" y1="1228" x2="421.4" y2="1505"/><line x1="428.6" y1="1228" x2="428.6" y2="1505"/>
<line x1="572" y1="1481" x2="792" y2="1481"/><line x1="678.4" y1="1228" x2="678.4" y2="1505"/><line x1="685.6" y1="1228" x2="685.6" y2="1505"/>
<line x1="839" y1="1481" x2="1059" y2="1481"/><line x1="945.4" y1="1228" x2="945.4" y2="1505"/><line x1="952.6" y1="1228" x2="952.6" y2="1505"/>
</g>
<!-- G -->
<ellipse cx="168" cy="1494" rx="30" ry="11" fill="url(#pg)"/>
<polygon points="150,1490 152,1445 156,1405 162,1375 167,1385 167,1490" fill="url(#pb)"/>
<polygon points="170,1490 170,1400 176,1380 182,1420 192,1450 202,1472 206,1490" fill="url(#pr)"/>
<g fill="#9aa0f0"><circle cx="146" cy="1235" r="1.3"/><circle cx="128" cy="1293" r="1.3"/><circle cx="156" cy="1300" r="1.3"/><circle cx="140" cy="1360" r="1.3"/><circle cx="150" cy="1330" r="1.3"/><circle cx="145" cy="1395" r="1.3"/></g>
<g fill="#f4a0a8"><circle cx="176" cy="1226" r="1.3"/><circle cx="205" cy="1340" r="1.3"/><circle cx="241" cy="1355" r="1.3"/><circle cx="240" cy="1360" r="1.3"/><circle cx="190" cy="1390" r="1.3"/><circle cx="200" cy="1280" r="1.3"/></g>
<!-- H -->
<ellipse cx="425" cy="1495" rx="22" ry="10" fill="url(#pg)"/>
<polygon points="432,1490 440,1465 455,1448 463,1470 459,1490" fill="url(#pr)" opacity="0.8"/>
<g fill="#3040e8"><circle cx="410" cy="1480" r="1.3"/><circle cx="404" cy="1470" r="1.3"/><circle cx="414" cy="1474" r="1.3"/></g>
<g fill="#f4a0a8"><circle cx="505" cy="1357" r="1.3"/><circle cx="503" cy="1362" r="1.3"/></g>
<!-- I -->
<ellipse cx="682" cy="1494" rx="22" ry="10" fill="url(#pg)"/>
<polygon points="656,1490 660,1455 668,1435 678,1440 678,1490" fill="url(#pb)" opacity="0.85"/>
<polygon points="686,1490 686,1435 694,1415 704,1440 712,1465 714,1490" fill="url(#pr)" opacity="0.85"/>
<g fill="#9aa0f0"><circle cx="645" cy="1275" r="1.3"/><circle cx="650" cy="1410" r="1.3"/><circle cx="660" cy="1380" r="1.3"/><circle cx="655" cy="1345" r="1.3"/><circle cx="640" cy="1395" r="1.3"/></g>
<g fill="#f4a0a8"><circle cx="715" cy="1320" r="1.3"/><circle cx="712" cy="1360" r="1.3"/><circle cx="718" cy="1290" r="1.3"/><circle cx="760" cy="1355" r="1.3"/><circle cx="708" cy="1385" r="1.3"/></g>
<!-- J -->
<ellipse cx="949" cy="1494" rx="26" ry="8" fill="url(#pg)"/>
<polygon points="915,1488 922,1462 935,1470 940,1490" fill="url(#pb)" opacity="0.85"/>
<polygon points="958,1490 965,1470 978,1460 983,1488" fill="url(#pr)" opacity="0.85"/>
<g fill="#9aa0f0"><circle cx="873" cy="1355" r="1.3"/><circle cx="875" cy="1360" r="1.3"/></g>
<g fill="#f4a0a8"><circle cx="1030" cy="1335" r="1.3"/></g>
<circle cx="172" cy="1416" r="3" fill="#d020d0"/>
<circle cx="421" cy="1436" r="3" fill="#d020d0"/>
<circle cx="693" cy="1426" r="2.5" fill="#d020d0"/><circle cx="691" cy="1440" r="2.5" fill="#d020d0"/><circle cx="694" cy="1458" r="2.5" fill="#f0c000"/>

<g font-size="15">
<text x="40" y="1267">15</text><text x="40" y="1347">10</text><text x="47" y="1428">5</text><text x="47" y="1508">0</text>
<text x="300" y="1267">15</text><text x="300" y="1347">10</text><text x="307" y="1428">5</text><text x="307" y="1508">0</text>
<text x="555" y="1267">15</text><text x="555" y="1347">10</text><text x="562" y="1428">5</text><text x="562" y="1508">0</text>
<text x="822" y="1267">15</text><text x="822" y="1347">10</text><text x="829" y="1428">5</text><text x="829" y="1508">0</text>
</g>
<g font-size="15" text-anchor="middle">
<text x="58.5" y="1535">-30</text><text x="95" y="1535">-20</text><text x="131.5" y="1535">-10</text><text x="168" y="1535">0</text><text x="204.5" y="1535">10</text><text x="241" y="1535">20</text><text x="277.5" y="1535">30</text>
<text x="315.5" y="1535">-30</text><text x="352" y="1535">-20</text><text x="388.5" y="1535">-10</text><text x="425" y="1535">0</text><text x="461.5" y="1535">10</text><text x="498" y="1535">20</text><text x="534.5" y="1535">30</text>
<text x="572.5" y="1535">-30</text><text x="609" y="1535">-20</text><text x="645.5" y="1535">-10</text><text x="682" y="1535">0</text><text x="718.5" y="1535">10</text><text x="755" y="1535">20</text><text x="791.5" y="1535">30</text>
<text x="839.5" y="1535">-30</text><text x="876" y="1535">-20</text><text x="912.5" y="1535">-10</text><text x="949" y="1535">0</text><text x="985.5" y="1535">10</text><text x="1022" y="1535">20</text><text x="1058.5" y="1535">30</text>
</g>
<text transform="translate(40 1420) rotate(-90)" text-anchor="middle" font-size="15" class="b">-log10(Pvalue)</text>
<g font-size="16" class="b">
<text x="106" y="1557">mRNA</text><text x="178" y="1557">log2(FC)</text>
<text x="362" y="1557">miRNA</text><text x="435" y="1557">log2(FC)</text>
<text x="612" y="1557">lncRNA</text><text x="692" y="1557">log2(FC)</text>
<text x="878" y="1557">circRNA</text><text x="958" y="1557">log2(FC)</text>
</g>
<g font-size="25"><text x="250" y="1253">G</text><text x="511" y="1253">H</text><text x="771" y="1253">I</text><text x="1067" y="1253">J</text></g>
<g font-size="15" class="b">
<text x="180" y="1424">CEBPA</text><text x="178" y="1468">NDUFS1</text><text x="178" y="1482">NDUFA9</text>
<text x="322" y="1432">ssc-miR-10383</text>
<text x="699" y="1428">MSTRG.37285.8</text><text x="697" y="1444">MSTRG.46053.1</text><text x="697" y="1459">MSTRG.47945.1</text><text x="697" y="1474">MSTRG.9253.9</text>
<text x="1012" y="1461">PMS1</text>
<text x="1033" y="1254">up</text><text x="1033" y="1276">down</text><text x="1033" y="1298">normal</text>
</g>
<text x="1016" y="1253" font-size="10" fill="#f08898">▲</text><text x="1016" y="1275" font-size="10" fill="#8890f0">▼</text><circle cx="1021" cy="1293" r="4" fill="#ccc"/>
</svg>
</body></html>
